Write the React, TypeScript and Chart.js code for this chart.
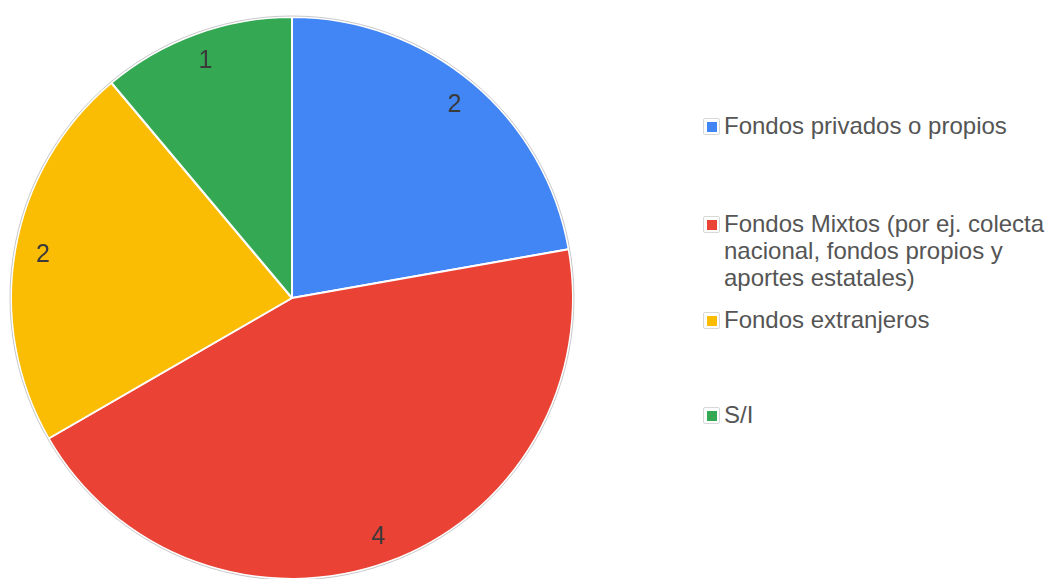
import React, { useEffect, useRef } from "react";
import { Chart, registerables } from "chart.js";

Chart.register(...registerables);

const categories = [
  "Fondos privados o propios",
  "Fondos Mixtos (por ej. colecta nacional, fondos propios y aportes estatales)",
  "Fondos extranjeros",
  "S/I",
];
const legendLines = [
  ["Fondos privados o propios"],
  ["Fondos Mixtos (por ej. colecta", "nacional, fondos propios y", "aportes estatales)"],
  ["Fondos extranjeros"],
  ["S/I"],
];
const values = [2, 4, 2, 1];
const colors = ["#4285F4", "#EA4335", "#FBBC04", "#34A853"];
const legendTops = [112, 210, 306, 401];

const labelPlugin = {
  id: "sliceLabels",
  afterDatasetsDraw(chart: any) {
    const ctx = chart.ctx;
    const meta = chart.getDatasetMeta(0);
    ctx.save();
    const a0 = meta.data[0];
    ctx.beginPath();
    ctx.arc(a0.x, a0.y, a0.outerRadius + 1, 0, Math.PI * 2);
    ctx.strokeStyle = "#c8c8c8";
    ctx.lineWidth = 1;
    ctx.stroke();
    ctx.font = "25px 'Liberation Sans', Arial, sans-serif";
    ctx.fillStyle = "#3a3a3a";
    ctx.textAlign = "center";
    ctx.textBaseline = "middle";
    meta.data.forEach((arc: any, i: number) => {
      const mid = (arc.startAngle + arc.endAngle) / 2;
      const r = arc.outerRadius * 0.9;
      ctx.fillText(String(values[i]), arc.x + Math.cos(mid) * r, arc.y + Math.sin(mid) * r + 1);
    });
    ctx.restore();
  },
};

export default function App() {
  const ref = useRef<HTMLCanvasElement>(null);
  useEffect(() => {
    document.body.style.margin = "0";
    const chart = new Chart(ref.current!, {
      type: "pie",
      data: {
        labels: categories,
        datasets: [
          {
            data: values,
            backgroundColor: colors,
            borderColor: "#ffffff",
            borderWidth: 2,
          },
        ],
      },
      options: {
        animation: false,
        responsive: false,
        maintainAspectRatio: false,
        layout: { padding: { left: 10, right: 10, top: 16, bottom: 16 } },
        plugins: { legend: { display: false }, tooltip: { enabled: false } },
      },
      plugins: [labelPlugin],
    });
    return () => chart.destroy();
  }, []);

  return (
    <div style={{ position: "relative", width: 1048, height: 579, overflow: "hidden", background: "#fff" }}>
      <canvas ref={ref} width={584} height={596} style={{ position: "absolute", left: 0, top: 0 }} />
      {legendLines.map((lines, i) => (
        <div
          key={i}
          style={{
            position: "absolute",
            left: 703,
            top: legendTops[i],
            display: "flex",
            alignItems: "flex-start",
            fontFamily: "'Liberation Sans', Arial, sans-serif",
            fontSize: 24,
            lineHeight: "27px",
            color: "#555555",
          }}
        >
          <div
            style={{
              width: 17,
              height: 17,
              border: "1px solid #d8d8d8",
              borderRadius: 2,
              boxSizing: "border-box",
              display: "flex",
              alignItems: "center",
              justifyContent: "center",
              marginTop: 6,
              marginRight: 4,
            }}
          >
            <div style={{ width: 10, height: 10, background: colors[i] }} />
          </div>
          <div>
            {lines.map((l, j) => (
              <div key={j}>{l}</div>
            ))}
          </div>
        </div>
      ))}
    </div>
  );
}
